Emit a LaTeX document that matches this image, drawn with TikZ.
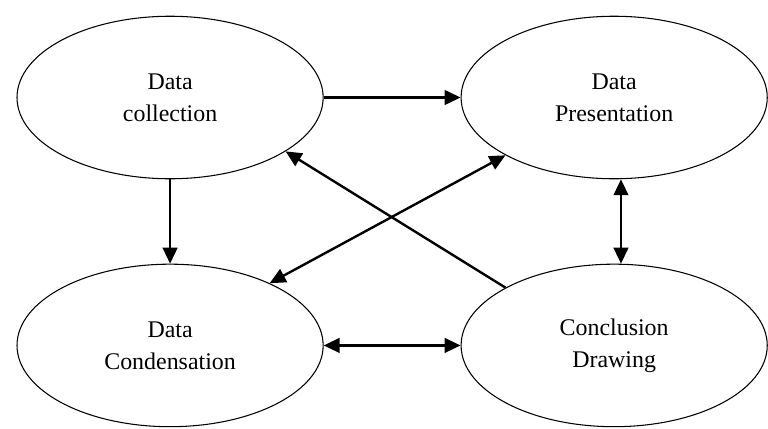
\documentclass[tikz,border=0pt]{standalone}
\usepackage{fontspec}
\setmainfont{Liberation Serif}
\usetikzlibrary{shapes.geometric}
\usetikzlibrary{arrows.meta}

\begin{document}
\begin{tikzpicture}
      \useasboundingbox (0,0) rectangle (20.32,11.35);
      \tikzstyle {stage} = [shape=ellipse, draw=black, line width=0.8pt, minimum width=8.1cm, minimum height=4.3cm, align=center, font=\fontsize{18}{24}\selectfont];
      \tikzstyle {flow} = [line width=1.8pt, -{Triangle[length=12pt,width=11pt]}];
      \tikzstyle {twoway} = [flow, {Triangle[length=12pt,width=11pt]}-{Triangle[length=12pt,width=11pt]}];
      \node (coll) [stage] at (4.5,8.77) {Data\\collection};
      \node (pres) [stage] at (16.25,8.77) {Data\\Presentation};
      \node (cond) [stage] at (4.5,2.21) {Data\\Condensation};
      \node (concl) [stage] at (16.25,2.21) {Conclusion\\Drawing};
      \draw [flow] (coll.east) -- (pres.west);
      \draw [flow] (coll.south) -- (cond.north);
      \draw [twoway] ([xshift=0.18cm]pres.south) -- ([xshift=0.18cm]concl.north);
      \draw [twoway] (cond.east) -- (concl.west);
      \draw [flow] (concl.152) -- (coll.-25);
      \draw [twoway] (cond.32) -- (pres.208);
    \end{tikzpicture}
\end{document}
